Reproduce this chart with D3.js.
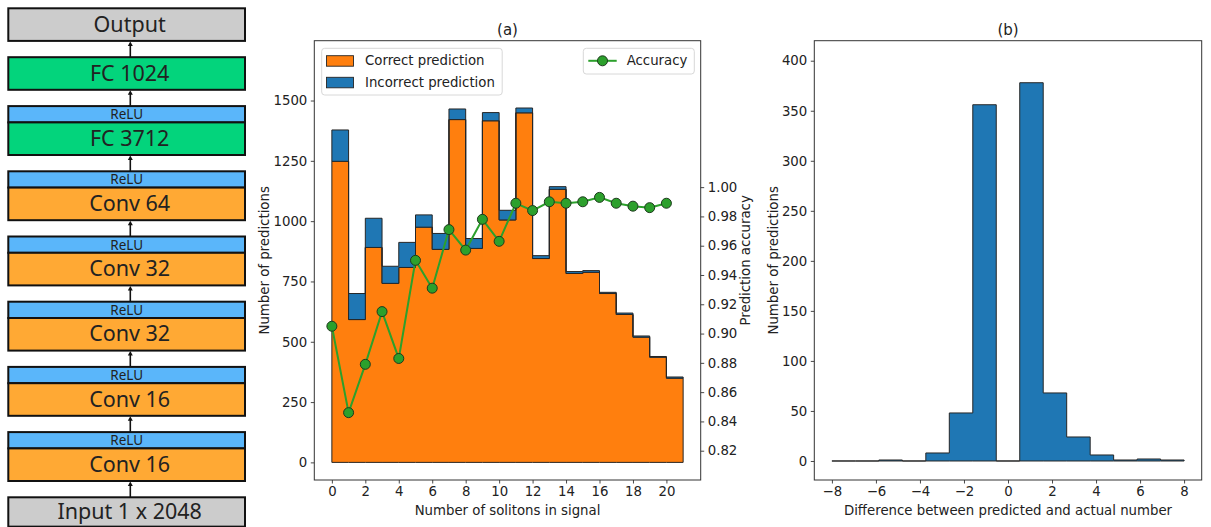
<!DOCTYPE html>
<html>
<head>
<meta charset="utf-8">
<script src="https://cdn.jsdelivr.net/npm/d3@7"></script>
<style>
  html, body { margin: 0; padding: 0; background: #fff; }
  svg { display: block; }
  text { font-family: "DejaVu Sans", sans-serif; fill: #222; }
</style>
</head>
<body>
<svg id="fig" width="1211" height="527"></svg>
<script>
// ---------------- DATA ----------------
// Network diagram layers (top to bottom)
const layerLabels = ["Output", "FC 1024", "FC 3712", "Conv 64", "Conv 32", "Conv 32", "Conv 16", "Conv 16", "Input 1 x 2048"];
const layerKinds  = ["io", "fc", "fc", "conv", "conv", "conv", "conv", "conv", "io"];
const layerRelu   = [false, false, true, true, true, true, true, true, false];

// Panel (a)
const solitons  = [0, 1, 2, 3, 4, 5, 6, 7, 8, 9, 10, 11, 12, 13, 14, 15, 16, 17, 18, 19, 20];
const correct   = [1248, 592, 891, 742, 808, 975, 883, 1421, 887, 1416, 1005, 1449, 845, 1132, 783, 788, 700, 613, 519, 436, 349];
const incorrect = [130, 108, 121, 71, 104, 51, 66, 44, 41, 34, 40, 20, 12, 11, 8, 7, 5, 6, 5, 3, 5];
const accuracy  = [0.905, 0.846, 0.879, 0.915, 0.883, 0.950, 0.931, 0.971, 0.957, 0.978, 0.963, 0.989, 0.984, 0.990, 0.989, 0.990, 0.993, 0.989, 0.987, 0.986, 0.989];
const aXTicks   = [0, 2, 4, 6, 8, 10, 12, 14, 16, 18, 20];
const aYTicks   = [0, 250, 500, 750, 1000, 1250, 1500];
const accTicks  = [0.82, 0.84, 0.86, 0.88, 0.90, 0.92, 0.94, 0.96, 0.98, 1.00];

// Panel (b)
const diffRange  = [-8, 8];
const diffCounts = [0, 0, 1, 0, 8, 48, 356, 0, 378, 68, 24, 6, 1, 2, 1];
const bXTicks    = [-8, -6, -4, -2, 0, 2, 4, 6, 8];
const bYTicks    = [0, 50, 100, 150, 200, 250, 300, 350, 400];

// ---------------- STYLE ----------------
const C_ORANGE = "#ff7f0e", C_BLUE = "#1f77b4", C_GREEN = "#2ca02c";
const FS = 13.3;
const EDGE = "#262626";
const svg = d3.select("#fig");

// ---------------- DIAGRAM ----------------
(function drawDiagram() {
  const g = svg.append("g");
  const uy = d3.scaleLinear().domain([0, 29]).range([8.3, 481]);
  const x0 = 8.3, x1 = 245, xc = 130.3;
  const fills = { io: "#cccccc", fc: "#03d47c", conv: "#ffa934" };
  let u = 0;
  const items = [];
  layerLabels.forEach((lab, i) => {
    const it = { label: lab, kind: layerKinds[i] };
    if (layerRelu[i]) { it.relu = [u, u + 1]; u += 1; }
    const h = (i === layerLabels.length - 1) ? 1.8 : 2;
    it.box = [u, u + h];
    it.top = it.relu ? it.relu[0] : it.box[0];
    u += 3;
    items.push(it);
  });
  for (let i = 0; i < items.length - 1; i++) {
    const yFrom = uy(items[i + 1].top), yTo = uy(items[i].box[1]);
    g.append("line").attr("x1", xc).attr("x2", xc).attr("y1", yFrom).attr("y2", yTo + 3)
      .attr("stroke", "#111").attr("stroke-width", 1.6);
    g.append("path").attr("d", `M${xc - 2.5},${yTo + 5} L${xc},${yTo + 0.5} L${xc + 2.5},${yTo + 5} Z`)
      .attr("fill", "#111");
  }
  items.forEach(it => {
    if (it.relu) {
      g.append("rect").attr("x", x0).attr("y", uy(it.relu[0])).attr("width", x1 - x0)
        .attr("height", uy(it.relu[1]) - uy(it.relu[0]))
        .attr("fill", "#5ab6fa").attr("stroke", "#111").attr("stroke-width", 2);
      g.append("text").attr("x", (x0 + x1) / 2).attr("y", (uy(it.relu[0]) + uy(it.relu[1])) / 2)
        .attr("text-anchor", "middle").attr("dominant-baseline", "central")
        .style("font-family", "'Noto Sans', 'Open Sans', sans-serif").style("font-size", "13.5px")
        .text("ReLU");
    }
    g.append("rect").attr("x", x0).attr("y", uy(it.box[0])).attr("width", x1 - x0)
      .attr("height", uy(it.box[1]) - uy(it.box[0]))
      .attr("fill", fills[it.kind]).attr("stroke", "#111").attr("stroke-width", 2);
    g.append("text").attr("x", (x0 + x1) / 2 + 3).attr("y", (uy(it.box[0]) + uy(it.box[1])) / 2 - 1.5)
      .attr("text-anchor", "middle").attr("dominant-baseline", "central")
      .style("font-family", "'Noto Sans', 'Open Sans', sans-serif").style("font-size", "21.5px")
      .text(it.label);
  });
})();

// ---------------- helpers ----------------
function frame(g, l, r, t, b) {
  g.append("rect").attr("x", l).attr("y", t).attr("width", r - l).attr("height", b - t)
    .attr("fill", "none").attr("stroke", "#333").attr("stroke-width", 1);
}
function styleAxis(sel, color) {
  sel.select(".domain").remove();
  sel.selectAll(".tick line").attr("stroke", "#333").attr("stroke-width", 0.9);
  sel.selectAll(".tick text").style("font-size", FS + "px").style("font-family", "DejaVu Sans, sans-serif")
    .attr("fill", color || "#222");
}

// ---------------- PANEL (a) ----------------
(function drawA() {
  const L = 314.3, R = 700.7, T = 40.7, B = 480;
  const g = svg.append("g");
  const x = d3.scaleLinear().domain([-1.05, 22.05]).range([L, R]);
  const y = d3.scaleLinear().domain([-73, 1748]).range([B, T]);
  const yr = d3.scaleLinear().domain([0.8, 1.1]).range([B, T]);

  // step points at bin edges (last bin closes at its right edge)
  const pts = solitons.map((d, i) => ({ x: d, c: correct[i], t: correct[i] + incorrect[i] }));
  const last = pts[pts.length - 1];
  pts.push({ x: last.x + 1, c: last.c, t: last.t });

  const orangeArea = d3.area().curve(d3.curveStepAfter)
    .x(d => x(d.x)).y0(y(0)).y1(d => y(d.c));
  const blueArea = d3.area().curve(d3.curveStepAfter)
    .x(d => x(d.x)).y0(d => y(d.c)).y1(d => y(d.t));

  g.append("path").datum(pts).attr("d", orangeArea)
    .attr("fill", C_ORANGE).attr("stroke", EDGE).attr("stroke-width", 1);
  g.append("path").datum(pts).attr("d", blueArea)
    .attr("fill", C_BLUE).attr("stroke", EDGE).attr("stroke-width", 1);

  // accuracy line
  const line = d3.line().x((d, i) => x(solitons[i])).y(d => yr(d));
  g.append("path").datum(accuracy).attr("d", line).attr("fill", "none")
    .attr("stroke", C_GREEN).attr("stroke-width", 2);
  g.append("g").selectAll("circle").data(accuracy).join("circle")
    .attr("cx", (d, i) => x(solitons[i])).attr("cy", d => yr(d)).attr("r", 5)
    .attr("fill", C_GREEN).attr("stroke", "#1e3a1e").attr("stroke-width", 1);

  frame(g, L, R, T, B);

  const ax = g.append("g").attr("transform", `translate(0,${B})`)
    .call(d3.axisBottom(x).tickValues(aXTicks).tickSize(3.5).tickPadding(3.5).tickFormat(d3.format("d")));
  styleAxis(ax);
  const ay = g.append("g").attr("transform", `translate(${L},0)`)
    .call(d3.axisLeft(y).tickValues(aYTicks).tickSize(3.5).tickPadding(3.5).tickFormat(d3.format("d")));
  styleAxis(ay);
  const ar = g.append("g").attr("transform", `translate(${R},0)`)
    .call(d3.axisRight(yr).tickValues(accTicks).tickSize(3.5).tickPadding(3.5).tickFormat(d3.format(".2f")));
  styleAxis(ar, C_GREEN);

  g.append("text").attr("x", (L + R) / 2).attr("y", 35).attr("text-anchor", "middle")
    .style("font-size", "15px").text("(a)");
  g.append("text").attr("x", (L + R) / 2).attr("y", 515).attr("text-anchor", "middle")
    .style("font-size", FS + "px").text("Number of solitons in signal");
  g.append("text").attr("transform", `translate(264,${(T + B) / 2}) rotate(-90)`)
    .attr("text-anchor", "middle").attr("dominant-baseline", "central")
    .style("font-size", FS + "px").text("Number of predictions");
  g.append("text").attr("transform", `translate(745,${(T + B) / 2}) rotate(-90)`)
    .attr("text-anchor", "middle").attr("dominant-baseline", "central")
    .style("font-size", FS + "px").text("Prediction accuracy");

  // legend 1
  const lg = g.append("g");
  lg.append("rect").attr("x", 321.7).attr("y", 48.3).attr("width", 180.5).attr("height", 46.7)
    .attr("rx", 3).attr("fill", "#fff").attr("fill-opacity", 0.8).attr("stroke", "#d8d8d8");
  [["Correct prediction", C_ORANGE, 55.7], ["Incorrect prediction", C_BLUE, 77.3]].forEach(([lab, col, yy]) => {
    lg.append("rect").attr("x", 326.5).attr("y", yy).attr("width", 27).attr("height", 10.5)
      .attr("fill", col).attr("stroke", EDGE).attr("stroke-width", 0.9);
    lg.append("text").attr("x", 365).attr("y", yy + 5.2).attr("dominant-baseline", "central")
      .style("font-size", FS + "px").text(lab);
  });
  // legend 2
  const lg2 = g.append("g");
  lg2.append("rect").attr("x", 583.3).attr("y", 48.3).attr("width", 111).attr("height", 25.7)
    .attr("rx", 3).attr("fill", "#fff").attr("fill-opacity", 0.8).attr("stroke", "#d8d8d8");
  lg2.append("line").attr("x1", 588.3).attr("x2", 616.7).attr("y1", 60.8).attr("y2", 60.8)
    .attr("stroke", C_GREEN).attr("stroke-width", 2);
  lg2.append("circle").attr("cx", 602.5).attr("cy", 60.8).attr("r", 5)
    .attr("fill", C_GREEN).attr("stroke", "#1e3a1e").attr("stroke-width", 1);
  lg2.append("text").attr("x", 626.7).attr("y", 60.8).attr("dominant-baseline", "central")
    .style("font-size", FS + "px").text("Accuracy");
})();

// ---------------- PANEL (b) ----------------
(function drawB() {
  const L = 814.3, R = 1201.7, T = 40.7, B = 480;
  const g = svg.append("g");
  const x = d3.scaleLinear().domain([-8.8, 8.8]).range([L, R]);
  const y = d3.scaleLinear().domain([-19, 420]).range([B, T]);
  const w = (diffRange[1] - diffRange[0]) / diffCounts.length;

  const pts = diffCounts.map((c, i) => ({ x: diffRange[0] + i * w, c }));
  pts.push({ x: diffRange[1], c: diffCounts[diffCounts.length - 1] });
  const area = d3.area().curve(d3.curveStepAfter).x(d => x(d.x)).y0(y(0)).y1(d => y(d.c));
  g.append("path").datum(pts).attr("d", area)
    .attr("fill", C_BLUE).attr("stroke", EDGE).attr("stroke-width", 1);

  frame(g, L, R, T, B);
  const ax = g.append("g").attr("transform", `translate(0,${B})`)
    .call(d3.axisBottom(x).tickValues(bXTicks).tickSize(3.5).tickPadding(3.5).tickFormat(d3.format("d")));
  styleAxis(ax);
  const ay = g.append("g").attr("transform", `translate(${L},0)`)
    .call(d3.axisLeft(y).tickValues(bYTicks).tickSize(3.5).tickPadding(3.5).tickFormat(d3.format("d")));
  styleAxis(ay);

  g.append("text").attr("x", (L + R) / 2).attr("y", 35).attr("text-anchor", "middle")
    .style("font-size", "15px").text("(b)");
  g.append("text").attr("x", (L + R) / 2).attr("y", 515).attr("text-anchor", "middle")
    .style("font-size", FS + "px").text("Difference between predicted and actual number");
  g.append("text").attr("transform", `translate(773,${(T + B) / 2}) rotate(-90)`)
    .attr("text-anchor", "middle").attr("dominant-baseline", "central")
    .style("font-size", FS + "px").text("Number of predictions");
})();
</script>
</body>
</html>
